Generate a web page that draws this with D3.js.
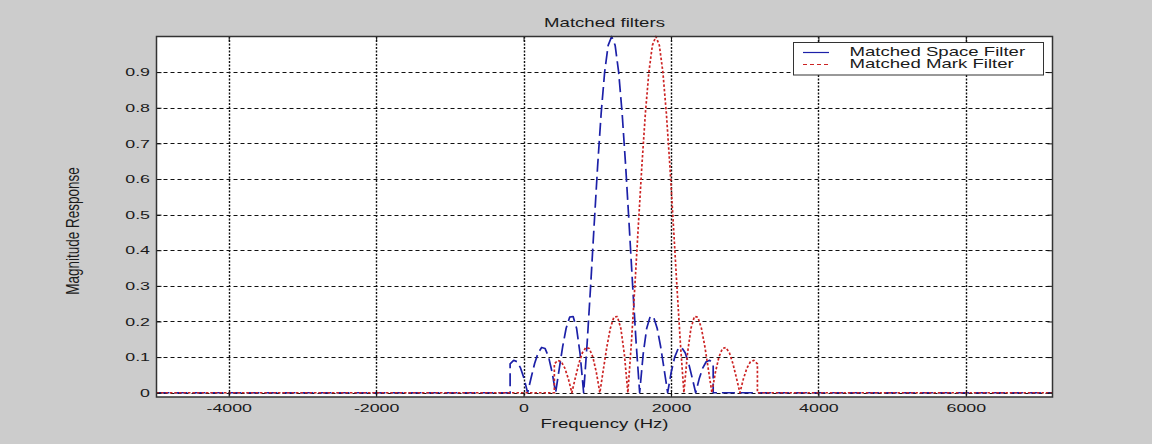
<!DOCTYPE html>
<html>
<head>
<meta charset="utf-8">
<script src="https://cdn.jsdelivr.net/npm/d3@7"></script>
<style>
  html, body { margin: 0; padding: 0; background: #cccccc; }
  svg { display: block; }
  text { font-family: "Liberation Sans", Arial, Helvetica, sans-serif; fill: #1a1a1a; }
</style>
</head>
<body>
<svg id="chart" width="1152" height="444"></svg>
<script>
// Axis ticks
const xTickValues = [-4000, -2000, 0, 2000, 4000, 6000];
const xTickLabels = ["-4000", "-2000", "0", "2000", "4000", "6000"];
const yTickValues = [0, 0.1, 0.2, 0.3, 0.4, 0.5, 0.6, 0.7, 0.8, 0.9];
const yTickLabels = ["0", "0.1", "0.2", "0.3", "0.4", "0.5", "0.6", "0.7", "0.8", "0.9"];

const seriesNames = ["Matched Space Filter", "Matched Mark Filter"];

// Space filter (centred near 1200 Hz): frequency (Hz) and magnitude response
const spaceFreq = [-4980, -182.5,
  -182.5, -135, -87.5, -40, 7.5, 55, 102.5, 150, 197.5, 245, 292.5, 340, 387.5, 435,
  482.5, 530, 577.5, 625, 672.5, 720, 767.5, 815, 862.5, 910, 957.5, 1005, 1052.5, 1100, 1147.5,
  1195,
  1242.5, 1290, 1337.5, 1385, 1432.5, 1480, 1527.5, 1575, 1622.5, 1670, 1717.5, 1765, 1812.5, 1860,
  1907.5, 1955, 2002.5, 2050, 2097.5, 2145, 2192.5, 2240, 2287.5, 2335, 2382.5, 2430, 2477.5, 2525, 2572.5,
  2572.5, 7176];
const spaceMag = [0, 0,
  0.081, 0.091, 0.087, 0.069, 0.039, 0, 0.042, 0.082, 0.112, 0.127, 0.124, 0.100, 0.057, 0,
  0.065, 0.129, 0.181, 0.212, 0.214, 0.180, 0.108, 0, 0.139, 0.300, 0.471, 0.637, 0.784, 0.900, 0.975,
  1.000,
  0.975, 0.900, 0.784, 0.637, 0.471, 0.300, 0.139, 0, 0.108, 0.180, 0.214, 0.212, 0.181, 0.129,
  0.065, 0, 0.057, 0.100, 0.124, 0.127, 0.112, 0.082, 0.042, 0, 0.039, 0.069, 0.087, 0.091, 0.081,
  0, 0];

// Mark filter (centred near 1800 Hz): frequency (Hz) and magnitude response
const markFreq = [-4980, 417.5,
  417.5, 465, 512.5, 560, 607.5, 655, 702.5, 750, 797.5, 845, 892.5, 940, 987.5, 1035,
  1082.5, 1130, 1177.5, 1225, 1272.5, 1320, 1367.5, 1415, 1462.5, 1510, 1557.5, 1605, 1652.5, 1700, 1747.5,
  1795,
  1842.5, 1890, 1937.5, 1985, 2032.5, 2080, 2127.5, 2175, 2222.5, 2270, 2317.5, 2365, 2412.5, 2460,
  2507.5, 2555, 2602.5, 2650, 2697.5, 2745, 2792.5, 2840, 2887.5, 2935, 2982.5, 3030, 3077.5, 3125, 3172.5,
  3172.5, 7176];
const markMag = [0, 0,
  0.081, 0.091, 0.087, 0.069, 0.039, 0, 0.042, 0.082, 0.112, 0.127, 0.124, 0.100, 0.057, 0,
  0.065, 0.129, 0.181, 0.212, 0.214, 0.180, 0.108, 0, 0.139, 0.300, 0.471, 0.637, 0.784, 0.900, 0.975,
  1.000,
  0.975, 0.900, 0.784, 0.637, 0.471, 0.300, 0.139, 0, 0.108, 0.180, 0.214, 0.212, 0.181, 0.129,
  0.065, 0, 0.057, 0.100, 0.124, 0.127, 0.112, 0.082, 0.042, 0, 0.039, 0.069, 0.087, 0.091, 0.081,
  0, 0];

// ---- layout ----
const svg = d3.select("#chart");
const W = 1152, H = 444;
const plot = { left: 156.5, right: 1052.5, top: 36.5, bottom: 397 };
const stretch = 1.55;           // horizontal text stretch of the figure
const blue = "#1c20a8", red = "#cc2323";

svg.append("rect").attr("width", W).attr("height", H).attr("fill", "#cccccc");

const x = d3.scaleLinear().domain([-4980, 7176]).range([plot.left, plot.right]);
const y = d3.scaleLinear().domain([-0.012, 1]).range([plot.bottom, plot.top]);

svg.append("rect")
  .attr("x", plot.left).attr("y", plot.top)
  .attr("width", plot.right - plot.left).attr("height", plot.bottom - plot.top)
  .attr("fill", "#ffffff");

svg.append("clipPath").attr("id", "plotClip")
  .append("rect")
  .attr("x", plot.left).attr("y", plot.top - 2)
  .attr("width", plot.right - plot.left).attr("height", plot.bottom - plot.top + 2);

// grid
const grid = svg.append("g");
grid.selectAll("line.h").data(yTickValues).join("line")
  .attr("class", "h")
  .attr("x1", plot.left).attr("x2", plot.right)
  .attr("y1", d => Math.round(y(d)) + 0.5).attr("y2", d => Math.round(y(d)) + 0.5)
  .attr("stroke", "#111").attr("stroke-width", 1).attr("stroke-dasharray", "4,3");
grid.selectAll("line.v").data(xTickValues).join("line")
  .attr("class", "v")
  .attr("x1", d => Math.round(x(d)) + 0.5).attr("x2", d => Math.round(x(d)) + 0.5)
  .attr("y1", plot.top).attr("y2", plot.bottom)
  .attr("stroke", "#111").attr("stroke-width", 1.4).attr("stroke-dasharray", "2,1.5");

// response curves
const curves = svg.append("g").attr("clip-path", "url(#plotClip)");
function drawSeries(freq, mag, color, dash, width) {
  const line = d3.line().x(i => x(freq[i])).y(i => y(mag[i]));
  curves.append("path")
    .attr("d", line(d3.range(freq.length)))
    .attr("fill", "none")
    .attr("stroke", color)
    .attr("stroke-width", width)
    .attr("stroke-dasharray", dash)
    .attr("stroke-linejoin", "round");
}
drawSeries(spaceFreq, spaceMag, blue, "13,5", 1.7);
drawSeries(markFreq, markMag, red, "2.5,2", 1.7);

// axes (ticks point inwards)
const fontSize = 11.5;
const axB = svg.append("g").attr("transform", `translate(0,${plot.bottom})`)
  .call(d3.axisBottom(x).tickValues(xTickValues).tickFormat((d, i) => xTickLabels[i])
    .tickSizeInner(-5).tickSizeOuter(0).tickPadding(7));
const axL = svg.append("g").attr("transform", `translate(${plot.left},0)`)
  .call(d3.axisLeft(y).tickValues(yTickValues).tickFormat((d, i) => yTickLabels[i])
    .tickSizeInner(-5).tickSizeOuter(0).tickPadding(6.5 / stretch));
const axT = svg.append("g").attr("transform", `translate(0,${plot.top})`)
  .call(d3.axisTop(x).tickValues(xTickValues).tickFormat("").tickSizeInner(-5).tickSizeOuter(0));
const axR = svg.append("g").attr("transform", `translate(${plot.right},0)`)
  .call(d3.axisRight(y).tickValues(yTickValues).tickFormat("").tickSizeInner(-5).tickSizeOuter(0));

[axB, axL, axT, axR].forEach(a => {
  a.attr("font-family", null).attr("font-size", null);
  a.select(".domain").remove();
  a.selectAll(".tick line").attr("stroke", "#111").attr("stroke-width", 1);
  a.selectAll(".tick text")
    .attr("font-size", fontSize)
    .attr("fill", "#1a1a1a")
    .attr("transform", `scale(${stretch},1)`);
});

// axes box
svg.append("rect")
  .attr("x", plot.left).attr("y", plot.top)
  .attr("width", plot.right - plot.left).attr("height", plot.bottom - plot.top)
  .attr("fill", "none").attr("stroke", "#333").attr("stroke-width", 1.5);

// title and axis labels
const cx = (plot.left + plot.right) / 2;
svg.append("text")
  .attr("transform", `translate(${cx},27) scale(${stretch},1)`)
  .attr("text-anchor", "middle").attr("font-size", 12)
  .text("Matched filters");
svg.append("text")
  .attr("transform", `translate(${cx},428) scale(${stretch},1)`)
  .attr("text-anchor", "middle").attr("font-size", 12)
  .text("Frequency (Hz)");
svg.append("text")
  .attr("transform", `translate(79,231) scale(1.3,1) rotate(-90)`)
  .attr("text-anchor", "middle").attr("font-size", 13.5)
  .text("Magnitude Response");

// legend
const lg = svg.append("g");
lg.append("rect")
  .attr("x", 793.5).attr("y", 42.5).attr("width", 250).attr("height", 32.5)
  .attr("fill", "#ffffff").attr("stroke", "#333").attr("stroke-width", 1);
const legendRows = [
  { name: seriesNames[0], color: blue, dash: null, ly: 52.5, ty: 55.5 },
  { name: seriesNames[1], color: red, dash: "4,3", ly: 64.5, ty: 67.5 }
];
legendRows.forEach(r => {
  lg.append("line")
    .attr("x1", 803).attr("x2", 829).attr("y1", r.ly).attr("y2", r.ly)
    .attr("stroke", r.color).attr("stroke-width", 1.2)
    .attr("stroke-dasharray", r.dash);
  lg.append("text")
    .attr("transform", `translate(849.5,${r.ty}) scale(${stretch},1)`)
    .attr("font-size", 12)
    .text(r.name);
});
</script>
</body>
</html>
